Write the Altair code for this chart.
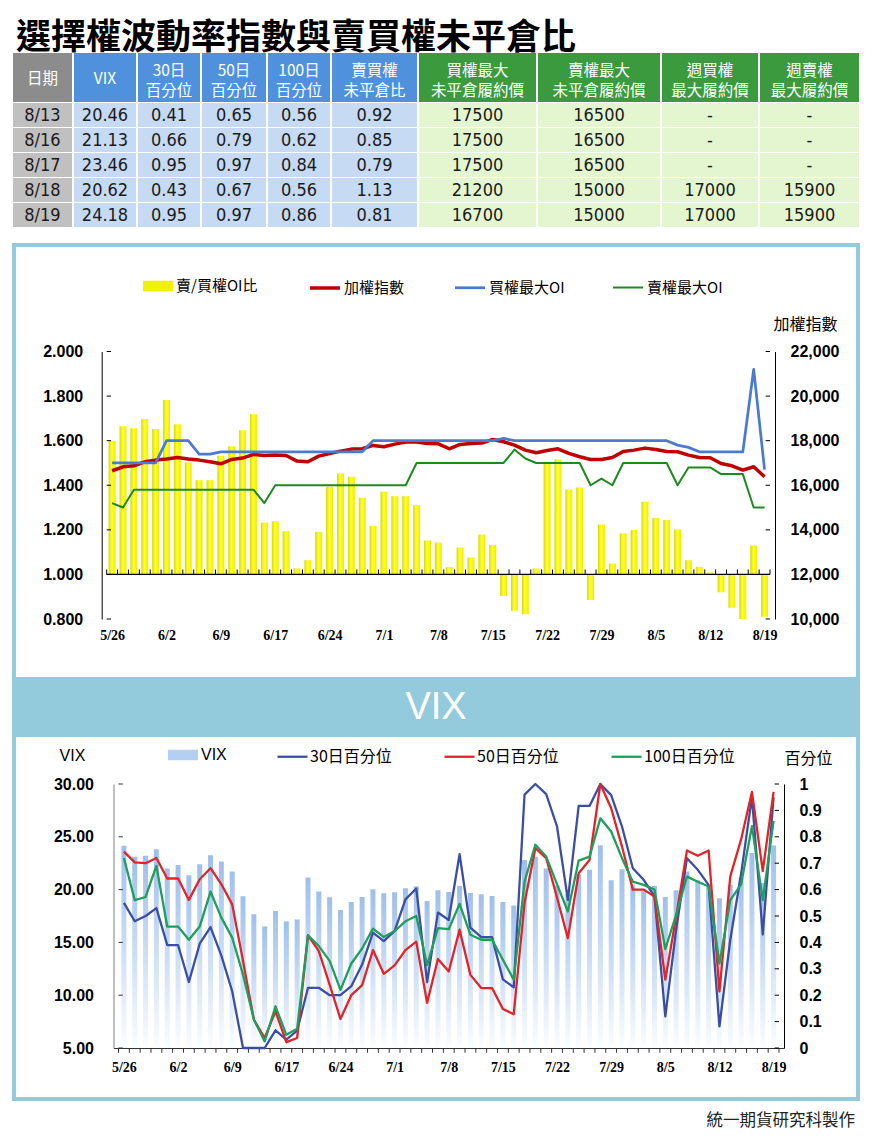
import altair as alt
import pandas as pd

# ---------------- data ----------------
DATES = ["5/26", "5/27", "5/28", "5/31", "6/1", "6/2", "6/3", "6/4", "6/7", "6/8",
         "6/9", "6/10", "6/11", "6/15", "6/16", "6/17", "6/18", "6/21", "6/22", "6/23",
         "6/24", "6/25", "6/28", "6/29", "6/30", "7/1", "7/2", "7/5", "7/6", "7/7",
         "7/8", "7/9", "7/12", "7/13", "7/14", "7/15", "7/16", "7/19", "7/20", "7/21",
         "7/22", "7/23", "7/26", "7/27", "7/28", "7/29", "7/30", "8/2", "8/3", "8/4",
         "8/5", "8/6", "8/9", "8/10", "8/11", "8/12", "8/13", "8/16", "8/17", "8/18", "8/19"]

PCR = [1.600, 1.665, 1.656, 1.697, 1.652, 1.782, 1.674, 1.502, 1.423, 1.423,
       1.532, 1.575, 1.647, 1.719, 1.232, 1.239, 1.194, 1.027, 1.064, 1.191,
       1.393, 1.453, 1.438, 1.344, 1.218, 1.371, 1.351, 1.351, 1.311, 1.152,
       1.143, 1.033, 1.121, 1.076, 1.179, 1.132, 0.903, 0.837, 0.821, 1.027,
       1.498, 1.516, 1.381, 1.390, 0.885, 1.224, 1.049, 1.184, 1.199, 1.326,
       1.254, 1.244, 1.202, 1.064, 1.034, 1.009, 0.920, 0.850, 0.790, 1.130, 0.810]

TAIEX = [16650, 16829, 16874, 17053, 17128, 17173, 17247, 17173, 17128, 17053,
         16963, 17158, 17218, 17382, 17337, 17352, 17337, 17083, 17053, 17307,
         17427, 17532, 17621, 17636, 17786, 17726, 17845, 17935, 17935, 17875,
         17860, 17636, 17830, 17875, 17890, 18055, 17950, 17800, 17576, 17457,
         17561, 17636, 17427, 17277, 17158, 17158, 17247, 17517, 17576, 17666,
         17606, 17517, 17502, 17352, 17247, 17232, 16978, 16874, 16679, 16829, 16380]

CALL_OI = [17000, 17000, 17000, 17000, 17000, 18000, 18000, 18000, 17400, 17400,
           17500, 17500, 17500, 17500, 17500, 17500, 17500, 17500, 17500, 17500,
           17500, 17500, 17500, 17500, 18000, 18000, 18000, 18000, 18000, 18000,
           18000, 18000, 18000, 18000, 18000, 18000, 18100, 18000, 18000, 18000,
           18000, 18000, 18000, 18000, 18000, 18000, 18000, 18000, 18000, 18000,
           18000, 18000, 17800, 17700, 17500, 17500, 17500, 17500, 17500, 21200, 16700]

PUT_OI = [15200, 15000, 15800, 15800, 15800, 15800, 15800, 15800, 15800, 15800,
          15800, 15800, 15800, 15800, 15200, 16000, 16000, 16000, 16000, 16000,
          16000, 16000, 16000, 16000, 16000, 16000, 16000, 16000, 17000, 17000,
          17000, 17000, 17000, 17000, 17000, 17000, 17000, 17600, 17200, 17000,
          17000, 17000, 17000, 17000, 16000, 16300, 16000, 17000, 17000, 17000,
          17000, 17000, 16000, 16800, 16800, 16800, 16500, 16500, 16500, 15000, 15000]

VIX = [24.15, 23.10, 23.20, 23.83, 21.99, 22.34, 21.36, 22.41, 23.26, 22.66,
       21.71, 19.37, 17.66, 16.52, 17.97, 16.99, 17.18, 21.14, 19.81, 19.27,
       18.07, 18.83, 19.30, 20.03, 19.65, 19.75, 20.13, 20.32, 18.92, 19.94,
       19.78, 20.35, 19.68, 19.56, 19.40, 18.83, 18.50, 22.80, 23.10, 22.00,
       20.40, 19.60, 21.46, 21.87, 24.20, 20.89, 21.93, 20.40, 19.87, 20.35,
       19.30, 19.94, 21.71, 20.89, 20.40, 19.18, 20.46, 21.13, 23.46, 20.62, 24.18]

P30 = [0.55, 0.48, 0.50, 0.53, 0.39, 0.39, 0.25, 0.395, 0.458, 0.35,
       0.215, 0.0, 0.0, 0.0, 0.067, 0.032, 0.066, 0.228, 0.228, 0.20,
       0.20, 0.234, 0.316, 0.437, 0.405, 0.443, 0.563, 0.604, 0.25, 0.513,
       0.485, 0.734, 0.456, 0.42, 0.42, 0.26, 0.23, 0.96, 1.0, 0.962,
       0.839, 0.561, 0.917, 0.917, 1.0, 0.958, 0.839, 0.681, 0.637, 0.574,
       0.12, 0.448, 0.719, 0.675, 0.618, 0.082, 0.41, 0.66, 0.95, 0.43, 0.95]

P50 = [0.744, 0.703, 0.70, 0.72, 0.642, 0.642, 0.561, 0.639, 0.681, 0.62,
       0.544, 0.33, 0.108, 0.038, 0.139, 0.022, 0.038, 0.427, 0.367, 0.24,
       0.11, 0.20, 0.238, 0.371, 0.281, 0.313, 0.371, 0.403, 0.171, 0.337,
       0.29, 0.448, 0.277, 0.227, 0.227, 0.148, 0.128, 0.55, 0.757, 0.719,
       0.57, 0.416, 0.662, 0.712, 1.0, 0.908, 0.763, 0.60, 0.60, 0.574,
       0.259, 0.498, 0.748, 0.728, 0.748, 0.214, 0.65, 0.79, 0.97, 0.67, 0.97]

P100 = [0.72, 0.56, 0.572, 0.69, 0.46, 0.46, 0.41, 0.46, 0.592, 0.494,
        0.418, 0.278, 0.108, 0.025, 0.158, 0.05, 0.073, 0.427, 0.386, 0.33,
        0.22, 0.32, 0.377, 0.452, 0.42, 0.443, 0.48, 0.50, 0.314, 0.454,
        0.45, 0.546, 0.429, 0.41, 0.41, 0.334, 0.259, 0.63, 0.77, 0.725,
        0.62, 0.517, 0.71, 0.725, 0.87, 0.82, 0.719, 0.63, 0.618, 0.60,
        0.375, 0.504, 0.649, 0.63, 0.612, 0.32, 0.56, 0.62, 0.84, 0.56, 0.86]

TITLE = "選擇權波動率指數與賣買權未平倉比"
FOOTER = "統一期貨研究科製作"
BANNER = "VIX"

TABLE_HEADERS = ["日期", "VIX", "30日\n百分位", "50日\n百分位", "100日\n百分位", "賣買權\n未平倉比",
                 "買權最大\n未平倉履約價", "賣權最大\n未平倉履約價", "週買權\n最大履約價", "週賣權\n最大履約價"]
T_DATES = ["8/13", "8/16", "8/17", "8/18", "8/19"]
T_VIX = ["20.46", "21.13", "23.46", "20.62", "24.18"]
T_P30 = ["0.41", "0.66", "0.95", "0.43", "0.95"]
T_P50 = ["0.65", "0.79", "0.97", "0.67", "0.97"]
T_P100 = ["0.56", "0.62", "0.84", "0.56", "0.86"]
T_PCR = ["0.92", "0.85", "0.79", "1.13", "0.81"]
T_CALL = ["17500", "17500", "17500", "21200", "16700"]
T_PUT = ["16500", "16500", "16500", "15000", "15000"]
T_WCALL = ["-", "-", "-", "17000", "17000"]
T_WPUT = ["-", "-", "-", "15900", "15900"]

SER1 = ["加權指數", "買權最大OI", "賣權最大OI"]
BAR1_NAME = "賣/買權OI比"
SER2 = ["30日百分位", "50日百分位", "100日百分位"]
BAR2_NAME = "VIX"

LEFT1_TICKS = [0.8, 1.0, 1.2, 1.4, 1.6, 1.8, 2.0]
RIGHT1_TICKS = [10000, 12000, 14000, 16000, 18000, 20000, 22000]
LEFT2_TICKS = [5, 10, 15, 20, 25, 30]
RIGHT2_TICKS = [0, 0.1, 0.2, 0.3, 0.4, 0.5, 0.6, 0.7, 0.8, 0.9, 1.0]
XLABELS = DATES[::5]

# ---------------- styles / layout ----------------
W = 848
F_CJK = "Noto Sans CJK TC"
F_NUM = "Liberation Sans"
F_NARROW = "Liberation Sans Narrow, Arial Narrow, DejaVu Sans Condensed, sans-serif"
F_SERIF = "Liberation Serif"
BORDER = "#93cbdc"
N = len(DATES)
NOSTROKE = dict(stroke="transparent", strokeWidth=0)

df = pd.DataFrame({
    "idx": list(range(N)), "date": DATES, "pcr": PCR,
    SER1[0]: TAIEX, SER1[1]: CALL_OI, SER1[2]: PUT_OI,
    "vix": VIX, SER2[0]: P30, SER2[1]: P50, SER2[2]: P100,
})
bdf = pd.DataFrame({"b": [i - 0.5 for i in range(N + 1)]})
one = pd.DataFrame({"a": [0]})
label_expr = "[" + ",".join("'%s'" % d for d in XLABELS) + "][round(datum.value/5)]"
xvals = list(range(0, N, 5))


def frame(h):
    # decorative panel border, drawn inside the panel box
    return alt.Chart(one).mark_rect(fill="transparent", stroke=BORDER, strokeWidth=4).encode(
        x=alt.value(2), x2=alt.value(W - 2), y=alt.value(2), y2=alt.value(h - 2))


# ---------- title + table ----------
TOP = 45   # space for the title above the table
TH = 235
EDGES = [0, 61, 125, 189, 255, 319, 406, 525, 649, 747, 848]
HEAD_FILL = ["#8c8c8c"] + ["#4f91dc"] * 5 + ["#3c9a3e"] * 4
BODY_FILL = ["#c0c0c0"] + ["#c6daf3"] * 5 + ["#e3f6d0"] * 4
col_vals = [T_DATES, T_VIX, T_P30, T_P50, T_P100, T_PCR, T_CALL, T_PUT, T_WCALL, T_WPUT]
cells = []
for c in range(len(TABLE_HEADERS)):
    x0, x1 = EDGES[c] + 1, EDGES[c + 1] - 1
    nl = TABLE_HEADERS[c].count("\n")
    cells.append(dict(x0=x0, x1=x1, y0=TOP, y1=TOP + 49, cy=TOP + 25.5 - 8 * nl, fill=HEAD_FILL[c],
                      text=TABLE_HEADERS[c], kind="head"))
    for r in range(len(T_DATES)):
        y0 = TOP + 50 + 25 * r
        cells.append(dict(x0=x0, x1=x1, y0=y0, y1=y0 + 24, cy=y0 + 12.5, fill=BODY_FILL[c],
                          text=col_vals[c][r], kind="body"))
tdf = pd.DataFrame(cells)
tdf["cx"] = (tdf.x0 + tdf.x1) / 2
TX = alt.Scale(domain=[0, W], range=[0, W], nice=False, zero=False)
TY = alt.Scale(domain=[0, TH], range=[0, TH], nice=False, zero=False)
t_title = alt.Chart(pd.DataFrame({"t": [TITLE]})).mark_text(
    align="left", baseline="alphabetic", font=F_CJK, fontSize=35, fontWeight="bold", color="black"
).encode(text="t:N", x=alt.value(4), y=alt.value(41))
t_rect = alt.Chart(tdf).mark_rect().encode(
    x=alt.X("x0:Q", scale=TX, axis=None), x2="x1:Q",
    y=alt.Y("y0:Q", scale=TY, axis=None), y2="y1:Q",
    fill=alt.Fill("fill:N", scale=None))
t_head = alt.Chart(tdf).transform_filter("datum.kind == 'head'").mark_text(
    font=F_CJK, fontSize=15.5, color="white", lineBreak="\n", lineHeight=20, baseline="middle",
    align="center"
).encode(x=alt.X("cx:Q", scale=TX, axis=None), y=alt.Y("cy:Q", scale=TY, axis=None), text="text:N")
t_body = alt.Chart(tdf).transform_filter("datum.kind == 'body'").mark_text(
    font=F_NARROW, fontSize=18, color="#1a1a1a", baseline="middle", align="center"
).encode(x=alt.X("cx:Q", scale=TX, axis=None), y=alt.Y("cy:Q", scale=TY, axis=None), text="text:N")
table_c = alt.layer(t_rect, t_head, t_body, t_title).properties(
    width=W, height=TH, view=alt.ViewBackground(**NOSTROKE))

# ---------- panel 1 ----------
H1 = 438
PX1 = [89.7, 763]
PY1 = [376, 108.5]
X1 = alt.Scale(domain=[-0.5, N - 0.5], range=PX1, nice=False, zero=False)
YL1 = alt.Scale(domain=[0.8, 2.0], range=PY1, nice=False, zero=False, clamp=True)
YR1 = alt.Scale(domain=[10000, 22000], range=PY1, nice=False, zero=False)
XAX1 = alt.Axis(orient="bottom", values=xvals, labelExpr=label_expr, offset=PY1[0] - H1, domain=False,
                ticks=False, grid=False, labelPadding=9, labelFont=F_SERIF, labelFontWeight="bold",
                labelFontSize=14, labelColor="black", labelAngle=0, labelFlush=False, labelOverlap=False,
                title=None)
YLAX1 = alt.Axis(orient="left", values=LEFT1_TICKS, format=".3f", offset=-PX1[0], domain=True,
                 domainColor="black", ticks=False, grid=False, labelPadding=19, labelFont=F_NUM,
                 labelFontWeight="bold", labelFontSize=16, labelColor="black", title=None)
YRAX1 = alt.Axis(orient="right", values=RIGHT1_TICKS, format=",d", offset=PX1[1] - W, domain=True,
                 domainColor="black", ticks=False, grid=False, labelPadding=15, labelFont=F_NUM,
                 labelFontWeight="bold", labelFontSize=16, labelColor="black",
                 title="加權指數", titleAngle=0, titleX=30, titleY=81, titleAlign="center",
                 titleBaseline="middle", titleFont=F_CJK, titleFontSize=16, titleFontWeight="normal",
                 titleColor="black")

yellow = alt.Gradient(gradient="linear", x1=0, x2=1, y1=0, y2=0, stops=[
    alt.GradientStop(color="#d9d900", offset=0), alt.GradientStop(color="#ffff30", offset=0.45),
    alt.GradientStop(color="#eeee00", offset=1)])

bars1 = alt.Chart(df).mark_bar(size=7, color=yellow).encode(
    x=alt.X("idx:Q", scale=X1, axis=XAX1),
    y=alt.Y("pcr:Q", scale=YL1, axis=YLAX1),
    y2=alt.Y2Datum(1.0))
base1 = alt.Chart(one).mark_rule(color="black", strokeWidth=1.3).encode(
    x=alt.XDatum(-0.5, scale=X1, axis=XAX1, type="quantitative"), x2=alt.X2Datum(N - 0.5),
    y=alt.YDatum(1.0, scale=YL1, axis=YLAX1, type="quantitative"))
bt1 = alt.Chart(bdf).mark_rule(color="black", strokeWidth=1).encode(
    x=alt.X("b:Q", scale=X1, axis=XAX1),
    y=alt.YDatum(1.0, scale=YL1, axis=YLAX1, type="quantitative"), y2=alt.Y2Datum(1.022))
lt1 = alt.Chart(pd.DataFrame({"v": LEFT1_TICKS})).mark_rule(color="black").encode(
    x=alt.XDatum(-0.5, scale=X1, axis=XAX1, type="quantitative"), x2=alt.X2Datum(-0.1),
    y=alt.Y("v:Q", scale=YL1, axis=YLAX1))
leg1 = alt.Chart(df).transform_filter("false").mark_bar().encode(
    fill=alt.Fill("k:N", scale=alt.Scale(domain=[BAR1_NAME], range=["#f2f200"]),
                  legend=alt.Legend(title=None, orient="none", legendX=131, legendY=28,
                                    direction="horizontal", symbolType="M-1,-0.35H1V0.35H-1Z",
                                    symbolSize=900, symbolStrokeWidth=0, labelOffset=3,
                                    labelFont=F_CJK, labelFontSize=15, labelColor="black")))

LEGL1 = alt.Legend(title=None, orient="none", legendX=296, legendY=28, direction="horizontal", columns=3,
                   columnPadding=44, symbolType="stroke", symbolSize=900, labelOffset=2,
                   labelFont=F_CJK, labelFontSize=15, labelColor="black")
lines1 = alt.Chart(df).transform_fold(SER1, as_=["series", "value"]).mark_line(strokeJoin="round").encode(
    x=alt.X("idx:Q", scale=X1, axis=XAX1),
    y=alt.Y("value:Q", scale=YR1, axis=YRAX1),
    stroke=alt.Stroke("series:N", scale=alt.Scale(domain=SER1, range=["#c00000", "#4a7bd0", "#1e8a1e"]),
                      legend=LEGL1),
    strokeWidth=alt.StrokeWidth("series:N", scale=alt.Scale(domain=SER1, range=[3.5, 2, 2.2]),
                                legend=LEGL1))
rt1 = alt.Chart(pd.DataFrame({"v": RIGHT1_TICKS})).mark_rule(color="black").encode(
    x=alt.XDatum(N - 0.9, scale=X1, axis=XAX1, type="quantitative"), x2=alt.X2Datum(N - 0.5),
    y=alt.Y("v:Q", scale=YR1, axis=YRAX1))

panel1 = alt.layer(
    alt.layer(frame(H1), bars1, base1, bt1, lt1, leg1),
    alt.layer(lines1, rt1),
).resolve_scale(y="independent").properties(
    width=W, height=H1, view=alt.ViewBackground(fill="white", **NOSTROKE))

# ---------- banner ----------
banner = alt.Chart(pd.DataFrame({"t": [BANNER]})).mark_text(
    align="center", baseline="middle", font=F_NUM, fontSize=38, color="white"
).encode(text="t:N", x=alt.value(424), y=alt.value(27)).properties(
    width=W, height=52, view=alt.ViewBackground(fill=BORDER, **NOSTROKE))

# ---------- panel 2 ----------
H2 = 368
PX2 = [101.5, 772]
PY2 = [315, 51]
X2 = alt.Scale(domain=[-0.5, N - 0.5], range=PX2, nice=False, zero=False)
YL2 = alt.Scale(domain=[5, 30], range=PY2, nice=False, zero=False)
YR2 = alt.Scale(domain=[0, 1], range=PY2, nice=False, zero=False)
XAX2 = alt.Axis(orient="bottom", values=xvals, labelExpr=label_expr, offset=PY2[0] - H2, domain=True,
                domainColor="#333333", ticks=False, grid=False, labelPadding=12, labelFont=F_SERIF,
                labelFontWeight="bold", labelFontSize=14, labelColor="black", labelAngle=0,
                labelFlush=False, labelOverlap=False, title=None)
YLAX2 = alt.Axis(orient="left", values=LEFT2_TICKS, format=".2f", offset=-PX2[0], domain=True,
                 domainColor="#808080", ticks=False, grid=False, labelPadding=20, labelFont=F_NUM,
                 labelFontWeight="bold", labelFontSize=16, labelColor="black",
                 title="VIX", titleAngle=0, titleX=-41.5, titleY=22, titleAlign="center",
                 titleBaseline="middle", titleFont=F_NUM, titleFontSize=16, titleFontWeight="normal",
                 titleColor="black")
YRAX2 = alt.Axis(orient="right", values=RIGHT2_TICKS, format=".1~f", offset=PX2[1] - W, domain=True,
                 domainColor="black", ticks=False, grid=False, labelPadding=15, labelFont=F_NUM,
                 labelFontWeight="bold", labelFontSize=16, labelColor="black",
                 title="百分位", titleAngle=0, titleX=24, titleY=25, titleAlign="center",
                 titleBaseline="middle", titleFont=F_CJK, titleFontSize=16, titleFontWeight="normal",
                 titleColor="black")

bluegrad = alt.Gradient(gradient="linear", x1=0, x2=0, y1=0, y2=1, stops=[
    alt.GradientStop(color="#9ebfec", offset=0), alt.GradientStop(color="#d0e1f6", offset=0.55),
    alt.GradientStop(color="#fbfdff", offset=1)])
bars2 = alt.Chart(df).mark_bar(size=5, color=bluegrad).encode(
    x=alt.X("idx:Q", scale=X2, axis=XAX2),
    y=alt.Y("vix:Q", scale=YL2, axis=YLAX2),
    y2=alt.Y2Datum(5))
bt2 = alt.Chart(bdf).mark_rule(color="#333333", strokeWidth=1).encode(
    x=alt.X("b:Q", scale=X2, axis=XAX2),
    y=alt.YDatum(5, scale=YL2, axis=YLAX2, type="quantitative"), y2=alt.Y2Datum(4.55))
lt2 = alt.Chart(pd.DataFrame({"v": LEFT2_TICKS})).mark_rule(color="#333333").encode(
    x=alt.XDatum(-0.5, scale=X2, axis=XAX2, type="quantitative"), x2=alt.X2Datum(-0.1),
    y=alt.Y("v:Q", scale=YL2, axis=YLAX2))
leg2 = alt.Chart(df).transform_filter("false").mark_bar().encode(
    fill=alt.Fill("k2:N", scale=alt.Scale(domain=[BAR2_NAME], range=["#b3cff2"]),
                  legend=alt.Legend(title=None, orient="none", legendX=156, legendY=7,
                                    direction="horizontal", symbolType="M-1,-0.35H1V0.35H-1Z",
                                    symbolSize=900, symbolStrokeWidth=0, labelOffset=3,
                                    labelFont=F_NUM, labelFontSize=16, labelColor="black")))
lines2 = alt.Chart(df).transform_fold(SER2, as_=["series", "value"]).mark_line(
    strokeWidth=2.3, strokeJoin="round").encode(
    x=alt.X("idx:Q", scale=X2, axis=XAX2),
    y=alt.Y("value:Q", scale=YR2, axis=YRAX2),
    stroke=alt.Stroke("series:N", scale=alt.Scale(domain=SER2, range=["#3b4ea6", "#e3232a", "#1f9f5c"]),
                      legend=alt.Legend(title=None, orient="none", legendX=264, legendY=7,
                                        direction="horizontal", columns=3, columnPadding=47,
                                        symbolType="stroke", symbolSize=900, symbolStrokeWidth=2.3,
                                        labelOffset=1, labelFont=F_CJK, labelFontSize=16,
                                        labelColor="black")))
rt2 = alt.Chart(pd.DataFrame({"v": RIGHT2_TICKS})).mark_rule(color="black").encode(
    x=alt.XDatum(N - 0.9, scale=X2, axis=XAX2, type="quantitative"), x2=alt.X2Datum(N - 0.5),
    y=alt.Y("v:Q", scale=YR2, axis=YRAX2))

panel2 = alt.layer(
    alt.layer(frame(H2), bars2, bt2, lt2, leg2),
    alt.layer(lines2, rt2),
).resolve_scale(y="independent").properties(
    width=W, height=H2, view=alt.ViewBackground(fill="white", **NOSTROKE))

# ---------- footer ----------
footer = alt.Chart(pd.DataFrame({"t": [FOOTER]})).mark_text(
    align="right", baseline="alphabetic", font=F_CJK, fontSize=16.5, color="#222222"
).encode(text="t:N", x=alt.value(843), y=alt.value(25)).properties(
    width=W, height=28, view=alt.ViewBackground(**NOSTROKE))

chart = alt.vconcat(table_c, panel1, banner, panel2, footer, spacing=0).resolve_scale(
    fill="independent", stroke="independent", strokeWidth="independent"
).resolve_legend(
    fill="independent", stroke="independent", strokeWidth="independent"
).properties(
    padding={"left": 4, "top": 0, "right": 0, "bottom": 0}, background="white"
).configure_view(stroke="transparent", strokeWidth=0)

chart.save("out.html", embed_options={"renderer": "svg", "actions": False})
